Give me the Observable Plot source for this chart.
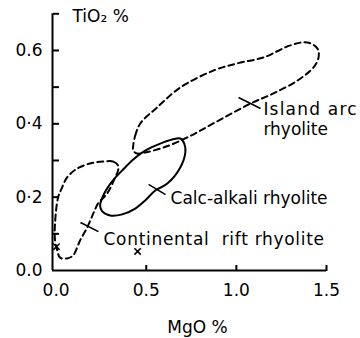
<!DOCTYPE html>
<html><head><meta charset="utf-8">
<script src="https://cdn.jsdelivr.net/npm/d3@7"></script>
<script src="https://cdn.jsdelivr.net/npm/@observablehq/plot@0.6"></script>
<style>body{margin:0;background:#fff}</style>
</head><body><div id="chart"></div>
<script>
// Island arc rhyolite field (dashed)
const islandMgO  = [0.428,0.439,0.467,0.561,0.689,0.872,1.006,1.15,1.30,1.394,1.45,1.456,1.428,1.339,1.206,1.078,0.872,0.728,0.594,0.494,0.45,0.428];
const islandTiO2 = [0.341,0.368,0.401,0.445,0.499,0.545,0.565,0.581,0.614,0.622,0.605,0.581,0.554,0.518,0.483,0.455,0.401,0.363,0.335,0.322,0.319,0.327];
// Calc-alkali rhyolite field (solid)
const calcMgO  = [0.244,0.267,0.311,0.367,0.428,0.494,0.578,0.644,0.689,0.711,0.717,0.689,0.617,0.55,0.494,0.439,0.367,0.30,0.256];
const calcTiO2 = [0.177,0.21,0.243,0.273,0.303,0.327,0.346,0.357,0.36,0.346,0.322,0.281,0.237,0.218,0.191,0.169,0.153,0.15,0.161];
// Continental rift rhyolite field (dashed)
const riftMgO  = [0.344,0.317,0.261,0.189,0.117,0.061,0.033,0.011,-0.006,-0.006,0.006,0.022,0.061,0.094,0.133,0.172,0.206,0.233,0.283,0.328,0.344];
const riftTiO2 = [0.286,0.297,0.297,0.292,0.278,0.254,0.226,0.199,0.128,0.082,0.055,0.035,0.033,0.041,0.082,0.117,0.155,0.183,0.21,0.254,0.273];
// Individual samples (×)
const sampleMgO  = [0.452, 0.002];
const sampleTiO2 = [0.052, 0.065];
// Field labels and leader ticks
const labelNames = ["Island arc\nrhyolite", "Calc-alkali rhyolite", "Continental\u00a0 rift rhyolite"];
const labelMgO   = [1.15, 0.635, 0.263];
const labelTiO2  = [0.413, 0.199, 0.088];
const leaderMgO1  = [1.012, 0.513, 0.135];
const leaderTiO21 = [0.472, 0.235, 0.131];
const leaderMgO2  = [1.134, 0.607, 0.235];
const leaderTiO22 = [0.442, 0.207, 0.106];
// Axes
const xDomain = [-0.02, 1.5];
const yDomain = [0, 0.7];
const xTicks = [0, 0.5, 1.0, 1.5];
const xTickLabels = ["0.0", "0.5", "1.0", "1.5"];
const xTickMarks = [0.5, 1.0, 1.5];
const yTicks = [0, 0.2, 0.4, 0.6];
const yTickLabels = ["0.0", "0·2", "0·4", "0.6"];
const yTickMarks = [0.1, 0.2, 0.3, 0.4, 0.5, 0.6, 0.7];
const xTitle = "MgO %";
const yTitle = "TiO₂ %";

const toRows = (xs, ys) => xs.map((x, i) => ({x, y: ys[i]}));
const labels = labelNames.map((t, i) => ({t, x: labelMgO[i], y: labelTiO2[i]}));
const leaders = labelNames.map((t, i) => ({x1: leaderMgO1[i], y1: leaderTiO21[i], x2: leaderMgO2[i], y2: leaderTiO22[i]}));

const chart = Plot.plot({
  width: 360, height: 338,
  marginLeft: 52, marginRight: 34, marginTop: 13.3, marginBottom: 68,
  style: {fontFamily: "DejaVu Sans", fontSize: "17px", background: "#fff", color: "#000"},
  x: {domain: xDomain},
  y: {domain: yDomain},
  marks: [
    Plot.axisY({ticks: yTicks, tickSize: 0, tickPadding: 10, tickFormat: (d) => yTickLabels[yTicks.indexOf(d)], label: null, fontSize: 17}),
    Plot.axisY({anchor: "right", frameAnchor: "left", ticks: yTickMarks, tickSize: 6, strokeWidth: 2, fill: "none", label: null}),
    Plot.axisX({ticks: xTicks, tickSize: 0, tickPadding: 13, tickFormat: (d) => xTickLabels[xTicks.indexOf(d)], label: null, fontSize: 17}),
    Plot.axisX({anchor: "top", frameAnchor: "bottom", ticks: xTickMarks, tickSize: 6, strokeWidth: 2, fill: "none", label: null}),
    Plot.ruleX([xDomain[0]], {strokeWidth: 2}),
    Plot.ruleY([yDomain[0]], {strokeWidth: 2}),
    Plot.line(toRows(islandMgO, islandTiO2), {x: "x", y: "y", curve: "catmull-rom-closed", strokeWidth: 2, strokeDasharray: "6,4"}),
    Plot.line(toRows(riftMgO, riftTiO2), {x: "x", y: "y", curve: "catmull-rom-closed", strokeWidth: 2, strokeDasharray: "6,4"}),
    Plot.line(toRows(calcMgO, calcTiO2), {x: "x", y: "y", curve: "catmull-rom-closed", strokeWidth: 2}),
    Plot.link(leaders, {x1: "x1", y1: "y1", x2: "x2", y2: "y2", strokeWidth: 1.6}),
    Plot.dot(toRows(sampleMgO, sampleTiO2), {x: "x", y: "y", symbol: "times", r: 3, strokeWidth: 1.6}),
    Plot.text(labels, {x: "x", y: "y", text: "t", textAnchor: "start", lineAnchor: "middle", lineHeight: 1.18, fontSize: 17}),
    Plot.text([yTitle], {text: d => d, frameAnchor: "top-left", dx: 20, dy: 3, textAnchor: "start", lineAnchor: "middle", fontSize: 17}),
    Plot.text([xTitle], {text: d => d, frameAnchor: "bottom", dx: 8, dy: 57, lineAnchor: "middle", fontSize: 17})
  ]
});
// widen letter spacing where the original lettering is looser
const svg = d3.select(chart);
svg.selectAll("text, tspan").filter(function () { return this.textContent.startsWith("Continental"); }).style("letter-spacing", "0.7px");
svg.selectAll("tspan").filter(function () { return this.textContent === "Island arc"; }).style("letter-spacing", "1.2px");
document.getElementById("chart").append(chart);
</script>
</body></html>
